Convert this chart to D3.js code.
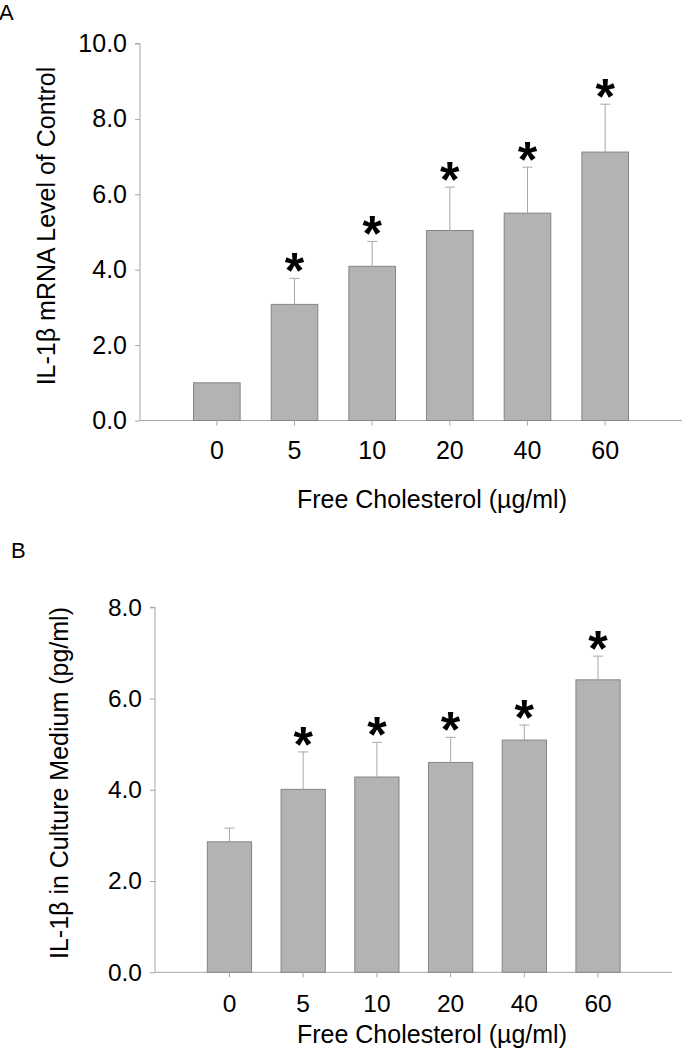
<!DOCTYPE html>
<html>
<head>
<meta charset="utf-8">
<script src="https://cdn.jsdelivr.net/npm/d3@7/dist/d3.min.js"></script>
<style>
  html, body { margin: 0; padding: 0; background: #fff; }
  svg { display: block; }
  text { font-family: "Liberation Sans", Arial, Helvetica, sans-serif; fill: #000; }
</style>
</head>
<body>
<svg id="chart" width="682" height="1049"></svg>
<script>
// ---- data ----
const categories = ["0", "5", "10", "20", "40", "60"];
const mrnaMean = [1.0, 3.08, 4.09, 5.04, 5.50, 7.12];
const mrnaErr  = [0.0, 0.69, 0.66, 1.15, 1.22, 1.27];
const mrnaSig  = [false, true, true, true, true, true];
const mrnaTicks = [0, 2, 4, 6, 8, 10];

const proteinMean = [2.86, 4.01, 4.28, 4.60, 5.09, 6.41];
const proteinErr  = [0.30, 0.82, 0.76, 0.55, 0.33, 0.52];
const proteinSig  = [false, true, true, true, true, true];
const proteinTicks = [0, 2, 4, 6, 8];

const svg = d3.select("#chart");
const axisColor = "#a6a6a6";
const barFill = "#b3b3b3";
const barStroke = "#858585";
const errColor = "#a8a8a8";

function panel(cfg) {
  const g = svg.append("g");
  const y = d3.scaleLinear().domain(cfg.domain).range([cfg.y0, cfg.y1]);
  const x = d3.scaleBand().domain(categories).range([cfg.bx0, cfg.bx1])
    .paddingInner(0.4).paddingOuter(0.2);

  // y axis
  const yAxis = d3.axisLeft(y).tickValues(cfg.ticks).tickSize(5).tickPadding(8)
    .tickFormat(d3.format(".1f"));
  const ya = g.append("g").attr("transform", `translate(${cfg.ax},0)`).call(yAxis);
  ya.select(".domain").attr("stroke", axisColor).attr("d", `M-5,${cfg.y1}H0V${cfg.y0}`);
  ya.selectAll(".tick line").attr("stroke", axisColor);
  ya.selectAll(".tick text").attr("font-size", cfg.tickFs).attr("fill", "#000")
    .attr("font-family", '"Liberation Sans", Arial, sans-serif');

  // x axis line
  g.append("line").attr("x1", cfg.ax).attr("x2", cfg.axEnd)
    .attr("y1", cfg.y0).attr("y2", cfg.y0).attr("stroke", axisColor);

  // bars
  g.selectAll("rect.bar").data(cfg.mean).join("rect")
    .attr("x", (d, i) => x(categories[i]))
    .attr("width", x.bandwidth())
    .attr("y", d => y(d))
    .attr("height", d => y(0) - y(d))
    .attr("fill", barFill).attr("stroke", barStroke).attr("stroke-width", 1);

  // x ticks
  g.selectAll("line.xt").data(categories).join("line")
    .attr("x1", d => x(d) + x.bandwidth() / 2).attr("x2", d => x(d) + x.bandwidth() / 2)
    .attr("y1", cfg.y0).attr("y2", cfg.y0 + 5).attr("stroke", axisColor);
  g.selectAll("text.xl").data(categories).join("text")
    .attr("x", d => x(d) + x.bandwidth() / 2)
    .attr("y", cfg.xLabelY)
    .attr("text-anchor", "middle").attr("font-size", cfg.tickFs).text(d => d);

  // error bars
  const eb = cfg.mean.map((m, i) => ({ m, e: cfg.err[i], c: categories[i], s: cfg.sig[i] }));
  eb.filter(d => d.e > 0).forEach(d => {
    const cx = x(d.c) + x.bandwidth() / 2;
    g.append("line").attr("x1", cx).attr("x2", cx)
      .attr("y1", y(d.m)).attr("y2", y(d.m + d.e)).attr("stroke", errColor);
    g.append("line").attr("x1", cx - 5).attr("x2", cx + 5)
      .attr("y1", y(d.m + d.e)).attr("y2", y(d.m + d.e)).attr("stroke", errColor);
  });
  // significance stars
  eb.filter(d => d.s).forEach(d => {
    const cx = x(d.c) + x.bandwidth() / 2;
    g.append("text").attr("x", cx).attr("y", y(d.m + d.e) + 10)
      .attr("text-anchor", "middle").attr("font-size", 50).attr("font-weight", "bold")
      .text("*");
  });

  // axis titles
  g.append("text")
    .attr("transform", `translate(${cfg.yTitleX},${cfg.yTitleY}) rotate(-90)`)
    .attr("text-anchor", "middle").attr("font-size", cfg.titleFs).text(cfg.yTitle);
  g.append("text").attr("x", 432).attr("y", cfg.xTitleY)
    .attr("text-anchor", "middle").attr("font-size", cfg.titleFs).text("Free Cholesterol (µg/ml)");

  g.append("text").attr("x", cfg.letterX).attr("y", cfg.letterY)
    .attr("font-size", 22).text(cfg.letter);
}

panel({
  domain: [0, 10], ticks: mrnaTicks, y0: 420.5, y1: 43.5,
  ax: 140, axEnd: 682, bx0: 178, bx1: 644,
  mean: mrnaMean, err: mrnaErr, sig: mrnaSig,
  tickFs: 25, titleFs: 25, xLabelY: 459, xTitleY: 508,
  yTitle: "IL-1β mRNA Level of Control", yTitleX: 55, yTitleY: 226,
  letter: "A", letterX: -1, letterY: 20
});

panel({
  domain: [0, 8], ticks: proteinTicks, y0: 972.3, y1: 607.3,
  ax: 155, axEnd: 672, bx0: 192.6, bx1: 634.9,
  mean: proteinMean, err: proteinErr, sig: proteinSig,
  tickFs: 24.5, titleFs: 25, xLabelY: 1012, xTitleY: 1043,
  yTitle: "IL-1β in Culture Medium (pg/ml)", yTitleX: 68, yTitleY: 783,
  letter: "B", letterX: 11, letterY: 558
});
</script>
</body>
</html>
